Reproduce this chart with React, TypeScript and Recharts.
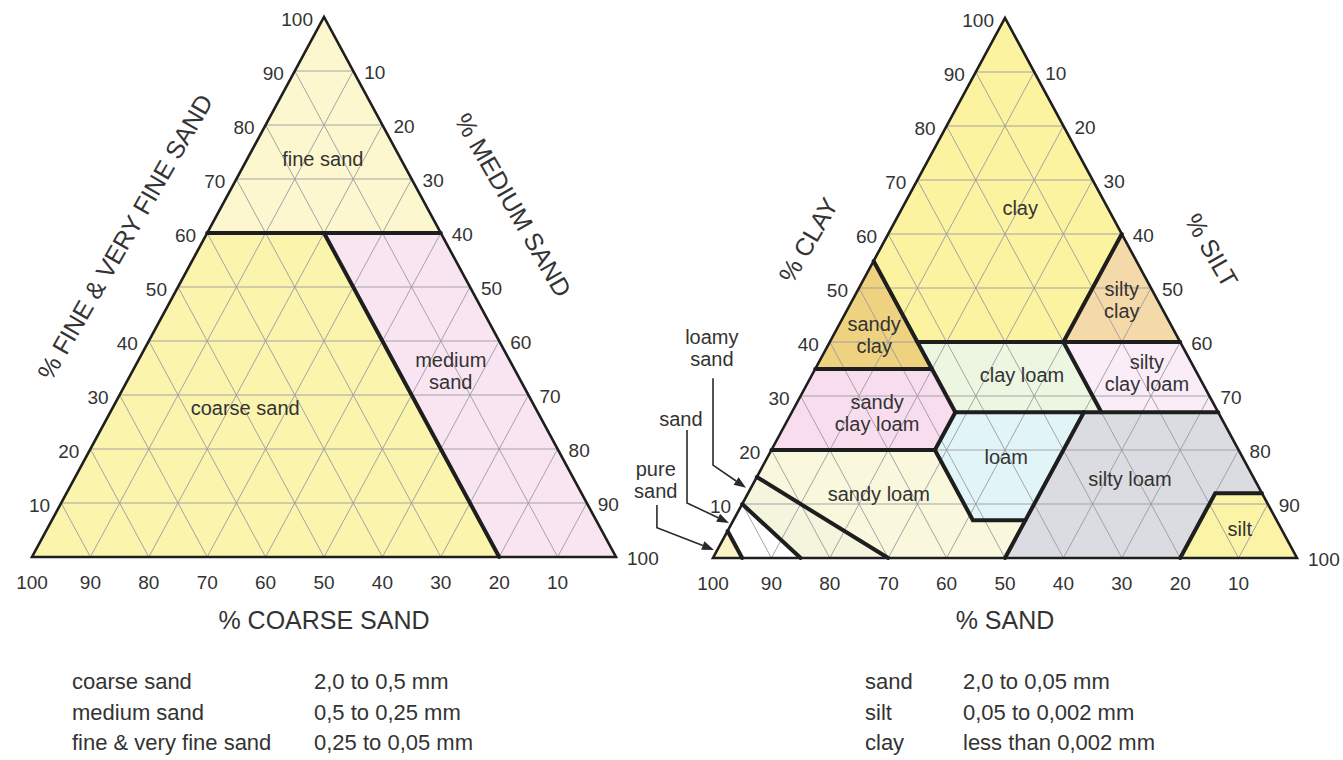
import React from "react";
import { ScatterChart, Scatter, XAxis, YAxis } from "recharts";

const FONT = '"Liberation Sans", Arial, Helvetica, sans-serif';
const INK = "#333";
const TRI_W = 584;
const TRI_H = 540;

// grid steps and axis tick labels, in percent
const gridSteps = [10, 20, 30, 40, 50, 60, 70, 80, 90];
const axisTicks = [10, 20, 30, 40, 50, 60, 70, 80, 90, 100];

// left diagram, points as [coarse, medium, fine]
const sandAreas = [
  [[40, 0, 60], [0, 40, 60], [0, 0, 100]],
  [[100, 0, 0], [20, 80, 0], [20, 20, 60], [40, 0, 60]],
  [[20, 80, 0], [0, 100, 0], [0, 40, 60], [20, 20, 60]],
];
const sandColors = ["#FCF7CE", "#FAF4AC", "#F9E5F2"];
const sandBounds = [
  [[40, 0, 60], [0, 40, 60]],
  [[20, 20, 60], [20, 80, 0]],
];
const sandNames = ["fine sand", "coarse sand", "medium\nsand"];
const sandNamePos = [[49.8, 73.7], [36.5, 27.6], [71.7, 34.4]];
const sandTitles = ["% COARSE SAND", "% FINE & VERY FINE SAND", "% MEDIUM SAND"];
const sandTitlePos = [[50, -11.7], [15.9, 59.3], [82.4, 65.2]];

// right diagram, points as [sand, silt, clay]
const textureAreas = [
  [[45, 0, 55], [0, 0, 100], [0, 40, 60], [20, 40, 40], [45, 15, 40]],
  [[65, 0, 35], [45, 0, 55], [45, 20, 35]],
  [[0, 40, 60], [0, 60, 40], [20, 40, 40]],
  [[45, 15, 40], [20, 40, 40], [20, 53, 27], [45, 28, 27]],
  [[20, 40, 40], [0, 60, 40], [0, 73, 27], [20, 53, 27]],
  [[80, 0, 20], [65, 0, 35], [45, 20, 35], [45, 28, 27], [52, 28, 20]],
  [[52, 28, 20], [45, 28, 27], [23, 50, 27], [43, 50, 7], [52, 41, 7]],
  [[23, 50, 27], [0, 73, 27], [0, 88, 12], [8, 80, 12], [20, 80, 0], [50, 50, 0]],
  [[8, 80, 12], [0, 88, 12], [0, 100, 0], [20, 80, 0]],
  [[80, 0, 20], [52, 28, 20], [52, 41, 7], [43, 50, 7], [50, 50, 0], [70, 30, 0], [85, 0, 15]],
  [[85, 0, 15], [70, 30, 0], [85, 15, 0], [90, 0, 10]],
  [[90, 0, 10], [85, 15, 0], [95, 5, 0], [95, 0, 5]],
  [[95, 0, 5], [95, 5, 0], [100, 0, 0]],
];
const textureColors = [
  "#FBF3A0", "#EFD280", "#F5DAA9", "#EDF6E1", "#FAEDF7", "#F8DDEF", "#E1F4F7",
  "#DADCE1", "#FBF3A6", "#FAF8DC", "#F3F5DC", "#FFFFFF", "#FCF2C6",
];
const textureBounds = [
  [[45, 0, 55], [45, 28, 27]],
  [[65, 0, 35], [45, 20, 35]],
  [[45, 15, 40], [0, 60, 40]],
  [[0, 40, 60], [20, 40, 40], [20, 53, 27]],
  [[45, 28, 27], [0, 73, 27]],
  [[80, 0, 20], [52, 28, 20], [45, 28, 27]],
  [[52, 28, 20], [52, 41, 7], [43, 50, 7]],
  [[23, 50, 27], [50, 50, 0]],
  [[0, 88, 12], [8, 80, 12], [20, 80, 0]],
  [[85, 0, 15], [70, 30, 0]],
  [[90, 0, 10], [85, 15, 0]],
  [[95, 0, 5], [95, 5, 0]],
];
const textureNames = [
  "clay", "silty\nclay", "sandy\nclay", "clay loam", "silty\nclay loam", "sandy\nclay loam",
  "loam", "silty loam", "sandy loam", "silt", "loamy\nsand", "sand", "pure\nsand",
];
const textureNamePos = [
  [52.6, 64.8], [70.0, 47.8], [27.6, 41.3], [52.9, 33.9], [74.3, 34.3], [28.1, 26.9],
  [50.2, 18.7], [71.4, 14.6], [28.4, 11.9], [90.2, 5.4], [-0.2, 38.9], [-5.5, 25.7], [-9.8, 14.4],
];
const textureTitles = ["% SAND", "% CLAY", "% SILT"];
const textureTitlePos = [[50, -11.5], [16.3, 58.9], [85.4, 57.0]];
const textureArrows = [
  [[0, 33.3], [0, 17.2], [5.65, 13.0]],
  [[-4.45, 23.7], [-4.45, 10.2], [2.74, 6.5]],
  [[-9.6, 9.8], [-9.6, 5.6], [0.17, 1.5]],
];

// legends
const sandLegendNames = ["coarse sand", "medium sand", "fine & very fine sand"];
const sandLegendRanges = ["2,0 to 0,5 mm", "0,5 to 0,25 mm", "0,25 to 0,05 mm"];
const textureLegendNames = ["sand", "silt", "clay"];
const textureLegendRanges = ["2,0 to 0,05 mm", "0,05 to 0,002 mm", "less than 0,002 mm"];

type Pt = { x: number; y: number };

// ternary -> plane: x = right component + top component / 2, y = top component
const toXY = (p: number[]) => ({ x: p[1] + p[2] / 2, y: p[2] });
const atXY = (p: number[]) => ({ x: p[0], y: p[1] });

const hidden = () => <g />;

const fillShape = (fill: string) => (p: any) => (
  <polygon points={(p.points || []).map((q: Pt) => `${q.x},${q.y}`).join(" ")} fill={fill} stroke="none" />
);

const pathOf = (pts: Pt[]) => pts.map((q, i) => `${i ? "L" : "M"}${q.x},${q.y}`).join("");

const strokeShape = (color: string, width: number, cap: "round" | "butt" = "round") => (p: any) => (
  <path d={pathOf(p.points || [])} stroke={color} strokeWidth={width} fill="none" strokeLinecap={cap} strokeLinejoin="miter" />
);

const pairsShape = (color: string, width: number) => (p: any) => {
  const pts: Pt[] = p.points || [];
  let d = "";
  for (let i = 0; i + 1 < pts.length; i += 2) d += `M${pts[i].x},${pts[i].y}L${pts[i + 1].x},${pts[i + 1].y}`;
  return <path d={d} stroke={color} strokeWidth={width} fill="none" />;
};

const arrowShape = (p: any) => {
  const pts: Pt[] = p.points || [];
  if (pts.length < 2) return <g />;
  const a = pts[pts.length - 2];
  const b = pts[pts.length - 1];
  const ang = Math.atan2(b.y - a.y, b.x - a.x);
  const L = 12;
  const W = 4.5;
  const bx = b.x - L * Math.cos(ang);
  const by = b.y - L * Math.sin(ang);
  const line = [...pts.slice(0, -1), { x: bx, y: by }];
  const head = [
    [b.x, b.y],
    [bx + W * Math.sin(ang), by - W * Math.cos(ang)],
    [bx - W * Math.sin(ang), by + W * Math.cos(ang)],
  ];
  return (
    <g>
      <path d={pathOf(line)} stroke="#2a2a2a" strokeWidth={1.6} fill="none" />
      <polygon points={head.map((h) => h.join(",")).join(" ")} fill="#2a2a2a" />
    </g>
  );
};

const textShape =
  (size: number, anchor: "start" | "middle" | "end", dx = 0, dy = 0, rotate = 0, color = INK) =>
  (p: any) => {
    const text = String(p.payload?.text ?? p.text ?? "");
    const lines = text.split("\n");
    const gap = size * 1.1;
    const cx = p.cx + dx;
    const cy = p.cy + dy;
    const base = cy + size * 0.36 - ((lines.length - 1) * gap) / 2;
    return (
      <text
        fontFamily={FONT}
        fontSize={size}
        fill={color}
        textAnchor={anchor}
        transform={rotate ? `rotate(${rotate} ${cx} ${cy})` : undefined}
      >
        {lines.map((l, i) => (
          <tspan key={i} x={cx} y={base + i * gap}>
            {l}
          </tspan>
        ))}
      </text>
    );
  };

type ChartProps = {
  left: number;
  width: number;
  height: number;
  padLeft: number;
  padTop: number;
  areas: number[][][];
  colors: string[];
  bounds: number[][][];
  names: string[];
  namePos: number[][];
  titles: string[];
  titlePos: number[][];
  arrows?: number[][][];
};

function TernaryChart(props: ChartProps) {
  const { left, width, height, padLeft, padTop } = props;
  const kx = TRI_W / 100;
  const ky = TRI_H / 100;
  const xDomain = [-padLeft / kx, (width - padLeft) / kx];
  const yDomain = [-(height - padTop - TRI_H) / ky, (padTop + TRI_H) / ky];

  const grid: Pt[] = [];
  gridSteps.forEach((k) => {
    grid.push(toXY([100 - k, 0, k]), toXY([0, 100 - k, k]));
    grid.push(toXY([100 - k, k, 0]), toXY([0, k, 100 - k]));
    grid.push(toXY([k, 100 - k, 0]), toXY([k, 0, 100 - k]));
  });
  const outline = [[100, 0, 0], [0, 100, 0], [0, 0, 100], [100, 0, 0], [0, 100, 0]].map(toXY);
  const leftTicks = axisTicks.map((k) => ({ ...toXY([100 - k, 0, k]), text: String(k) }));
  const rightTicks = axisTicks.map((k) => ({ ...toXY([0, k, 100 - k]), text: String(k) }));
  const bottomTicks = axisTicks.map((k) => ({ ...toXY([k, 100 - k, 0]), text: String(k) }));
  const names = props.names.map((n, i) => ({ ...atXY(props.namePos[i]), text: n }));
  const titles = props.titles.map((t, i) => ({ ...atXY(props.titlePos[i]), text: t }));

  return (
    <div style={{ position: "absolute", left, top: 0 }}>
      <ScatterChart width={width} height={height} margin={{ top: 0, right: 0, bottom: 0, left: 0 }}>
        <XAxis type="number" dataKey="x" domain={xDomain} allowDataOverflow hide />
        <YAxis type="number" dataKey="y" domain={yDomain} allowDataOverflow hide />
        {props.areas.map((a, i) => (
          <Scatter key={`area${i}`} data={a.map(toXY)} line={fillShape(props.colors[i])} shape={hidden} isAnimationActive={false} />
        ))}
        <Scatter data={grid} line={pairsShape("#9c9aa2", 0.9)} shape={hidden} isAnimationActive={false} />
        {props.bounds.map((b, i) => (
          <Scatter key={`bound${i}`} data={b.map(toXY)} line={strokeShape("#1e1e1e", 4)} shape={hidden} isAnimationActive={false} />
        ))}
        <Scatter data={outline} line={strokeShape("#1e1e1e", 2.6, "butt")} shape={hidden} isAnimationActive={false} />
        <Scatter data={leftTicks} shape={textShape(19, "end", -11, 2)} isAnimationActive={false} />
        <Scatter data={rightTicks} shape={textShape(19, "start", 11, 1)} isAnimationActive={false} />
        <Scatter data={bottomTicks} shape={textShape(19, "middle", 0, 25)} isAnimationActive={false} />
        <Scatter data={names} shape={textShape(20, "middle")} isAnimationActive={false} />
        <Scatter data={titles.slice(0, 1)} shape={textShape(25, "middle")} isAnimationActive={false} />
        <Scatter data={titles.slice(1, 2)} shape={textShape(25, "middle", 0, 0, -60)} isAnimationActive={false} />
        <Scatter data={titles.slice(2, 3)} shape={textShape(25, "middle", 0, 0, 60)} isAnimationActive={false} />
        {(props.arrows || []).map((a, i) => (
          <Scatter key={`arrow${i}`} data={a.map(atXY)} line={arrowShape} shape={hidden} isAnimationActive={false} />
        ))}
      </ScatterChart>
    </div>
  );
}

function Legend({ left, valueLeft, names, ranges }: { left: number; valueLeft: number; names: string[]; ranges: string[] }) {
  const rowStyle: React.CSSProperties = { position: "absolute", top: 667, fontFamily: FONT, fontSize: 22, lineHeight: "30.5px", color: INK, whiteSpace: "nowrap" };
  return (
    <>
      <div style={{ ...rowStyle, left }}>
        {names.map((n) => (
          <div key={n}>{n}</div>
        ))}
      </div>
      <div style={{ ...rowStyle, left: valueLeft }}>
        {ranges.map((r) => (
          <div key={r}>{r}</div>
        ))}
      </div>
    </>
  );
}

export default function App() {
  return (
    <div style={{ position: "absolute", left: 0, top: 0, width: 1343, height: 760, background: "#fff", overflow: "hidden" }}>
      <TernaryChart
        left={0}
        width={680}
        height={650}
        padLeft={32}
        padTop={17}
        areas={sandAreas}
        colors={sandColors}
        bounds={sandBounds}
        names={sandNames}
        namePos={sandNamePos}
        titles={sandTitles}
        titlePos={sandTitlePos}
      />
      <TernaryChart
        left={630}
        width={713}
        height={650}
        padLeft={83}
        padTop={18}
        areas={textureAreas}
        colors={textureColors}
        bounds={textureBounds}
        names={textureNames}
        namePos={textureNamePos}
        titles={textureTitles}
        titlePos={textureTitlePos}
        arrows={textureArrows}
      />
      <Legend left={72} valueLeft={314} names={sandLegendNames} ranges={sandLegendRanges} />
      <Legend left={865} valueLeft={963} names={textureLegendNames} ranges={textureLegendRanges} />
    </div>
  );
}
